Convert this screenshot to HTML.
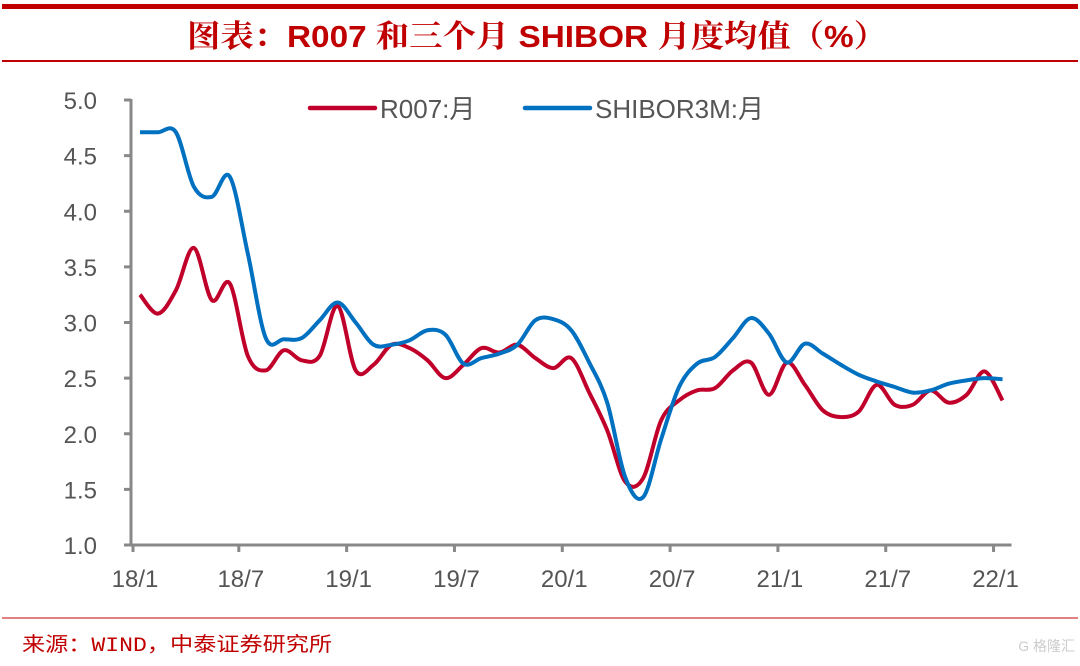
<!DOCTYPE html>
<html><head><meta charset="utf-8"><style>
body{margin:0;width:1080px;height:661px;background:#fff;overflow:hidden;font-family:"Liberation Sans","Noto Sans CJK SC",sans-serif;}
</style></head><body>
<svg width="1080" height="661" xmlns="http://www.w3.org/2000/svg">
<rect x="2" y="4" width="1076" height="5" fill="#c00000"/>
<text x="537" y="47" text-anchor="middle" font-size="31" font-weight="bold" fill="#c00000" font-family="'Liberation Sans','Noto Serif CJK SC',serif" textLength="700" lengthAdjust="spacingAndGlyphs">图表：R007 和三个月 SHIBOR 月度均值（%）</text>
<rect x="2" y="60" width="1076" height="2" fill="#c00000"/>
<rect x="2" y="617" width="1076" height="2" fill="#e08080"/>
<text x="22" y="651" font-size="20" fill="#c00000" font-family="'Liberation Mono','Noto Sans CJK SC',monospace" textLength="310" lengthAdjust="spacingAndGlyphs">来源：WIND，中泰证券研究所</text>
<text x="1075" y="651" text-anchor="end" font-size="14" fill="#ccc">G 格隆汇</text>
<g id="axes"></g>
<g id="lines"></g>
<g id="legend">
<line x1="310" y1="108" x2="375" y2="108" stroke="#c0002a" stroke-width="4.5" stroke-linecap="round"/>
<text x="380" y="118" font-size="26" fill="#555">R007:月</text>
<line x1="525" y1="108" x2="590" y2="108" stroke="#0070c0" stroke-width="4.5" stroke-linecap="round"/>
<text x="595" y="118" font-size="26" fill="#555">SHIBOR3M:月</text>
</g>
</svg>
<script>
const yTicks=[1.0,1.5,2.0,2.5,3.0,3.5,4.0,4.5,5.0];
const xTickLabels=["18/1","18/7","19/1","19/7","20/1","20/7","21/1","21/7","22/1"];
const r007=[3.25,3.08,3.29,3.67,3.2,3.35,2.7,2.57,2.75,2.66,2.7,3.15,2.57,2.62,2.8,2.77,2.66,2.5,2.62,2.77,2.73,2.8,2.68,2.59,2.68,2.37,2.03,1.57,1.6,2.12,2.3,2.39,2.41,2.57,2.64,2.35,2.64,2.44,2.21,2.15,2.2,2.44,2.26,2.26,2.39,2.28,2.35,2.56,2.3];
const shibor=[4.71,4.71,4.71,4.22,4.13,4.31,3.62,2.86,2.85,2.86,3.02,3.18,3.0,2.8,2.8,2.84,2.93,2.89,2.63,2.68,2.72,2.8,3.02,3.03,2.93,2.64,2.28,1.61,1.43,1.95,2.42,2.63,2.69,2.86,3.04,2.9,2.64,2.81,2.72,2.62,2.53,2.47,2.42,2.37,2.39,2.45,2.48,2.5,2.49];
const NS="http://www.w3.org/2000/svg";
const X0=131,MW=17.97,Y0=545,YS=111.25;
const xOf=i=>X0+(i+0.5)*MW, yOf=v=>Y0-(v-1)*YS;
const axes=document.getElementById('axes');
function mk(t,a,p){const e=document.createElementNS(NS,t);for(const k in a)e.setAttribute(k,a[k]);p.appendChild(e);return e;}
let e=mk('line',{x1:X0,y1:yOf(5)-1,x2:X0,y2:Y0,stroke:'#888','stroke-width':3},axes);


e=mk('line',{x1:X0,y1:Y0,x2:X0+49*MW,y2:Y0,stroke:'#888','stroke-width':3},axes);


yTicks.forEach(v=>{
 mk('line',{x1:X0-7,y1:yOf(v),x2:X0,y2:yOf(v),stroke:'#888','stroke-width':3},axes);
 const t=mk('text',{x:97,y:yOf(v)+9,'text-anchor':'end','font-size':24,fill:'#555'},axes);
 t.textContent=v.toFixed(1);
 
 
});
xTickLabels.forEach((l,k)=>{
 const x=X0+k*6*MW+(k?0:2);
 mk('line',{x1:x,y1:Y0,x2:x,y2:Y0+7,stroke:'#888','stroke-width':3},axes);
 const t=mk('text',{x:x+2,y:Y0+42,'text-anchor':'middle','font-size':24,fill:'#555'},axes);
 t.textContent=l;
 
 
});
function path(arr){
 const p=arr.map((v,i)=>[xOf(i),yOf(v)]);
 let d='M'+p[0][0]+','+p[0][1];
 for(let i=0;i<p.length-1;i++){
  const a=p[Math.max(0,i-1)],b=p[i],c=p[i+1],n=p[Math.min(p.length-1,i+2)];
  d+=' C'+(b[0]+(c[0]-a[0])/6)+','+(b[1]+(c[1]-a[1])/6)+' '+(c[0]-(n[0]-b[0])/6)+','+(c[1]-(n[1]-b[1])/6)+' '+c[0]+','+c[1];
 }
 return d;
}
const lines=document.getElementById('lines');
e=mk('path',{d:path(r007),fill:'none',stroke:'#c0002a','stroke-width':4,'stroke-linejoin':'round'},lines);


e=mk('path',{d:path(shibor),fill:'none',stroke:'#0070c0','stroke-width':4,'stroke-linejoin':'round'},lines);


</script>
</body></html>
